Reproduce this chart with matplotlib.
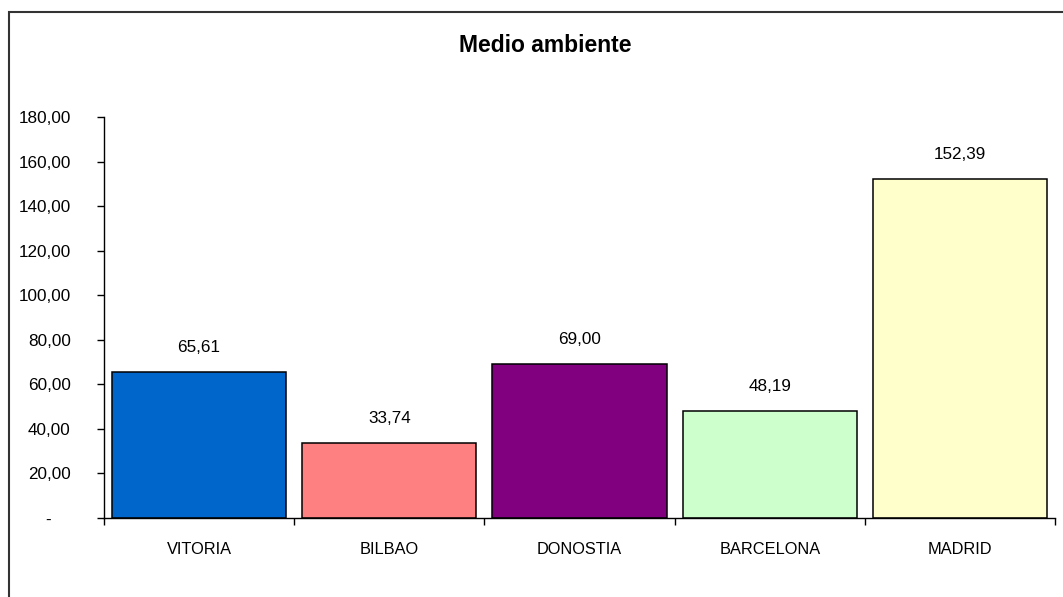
import numpy as np
import matplotlib.pyplot as plt
from matplotlib.patches import Rectangle

# Data
ciudades = ['VITORIA', 'BILBAO', 'DONOSTIA', 'BARCELONA', 'MADRID']
valores = [65.61, 33.74, 69.00, 48.19, 152.39]
colores = ['#0066CC', '#FF8080', '#800080', '#CCFFCC', '#FFFFCC']
y_ticks = [0, 20, 40, 60, 80, 100, 120, 140, 160, 180]

plt.rcParams['font.family'] = ['Liberation Sans', 'DejaVu Sans']

fig = plt.figure(figsize=(10.63, 5.97), dpi=100)
W, H = 1063, 597
ax = fig.add_axes([104 / W, 1 - 518 / H, (1055 - 104) / W, (518 - 117) / H])

# outer chart border (only top and left visible)
fig.patches.append(Rectangle((8.5 / W, -0.1), 1.2, 1.1 - 11.5 / H, transform=fig.transFigure,
                             fill=False, edgecolor='#333333', linewidth=1.5))

x = np.arange(len(ciudades))
bars = ax.bar(x, valores, width=0.915, color=colores, edgecolor='black', linewidth=1.1)

for xi, v in zip(x, valores):
    ax.annotate(f'{v:.2f}'.replace('.', ','), (xi, v), xytext=(0, 17.5), textcoords='offset points',
                ha='center', va='center', fontsize=12.3)

ax.set_xlim(-0.5, len(ciudades) - 0.5)
ax.set_ylim(0, 180)
ax.set_yticks(y_ticks)
ax.set_yticklabels(['-    '] + [f'{t:.2f}'.replace('.', ',') for t in y_ticks[1:]])
ax.set_xticks(x)
ax.set_xticklabels(ciudades)
ax.set_xticks(np.arange(len(ciudades) + 1) - 0.5, minor=True)

ax.tick_params(axis='x', which='major', length=0, pad=17, labelsize=11.8)
ax.tick_params(axis='x', which='minor', length=5, direction='out', width=1)
ax.tick_params(axis='y', length=5, direction='out', width=1, pad=19, labelsize=12.3)

for s in ['top', 'right']:
    ax.spines[s].set_visible(False)
for s in ['left', 'bottom']:
    ax.spines[s].set_linewidth(1)

fig.text(545 / W, 1 - 45 / H, 'Medio ambiente', ha='center', va='center',
         fontsize=16.5, fontweight='bold')

plt.savefig('out.png', dpi=100)
